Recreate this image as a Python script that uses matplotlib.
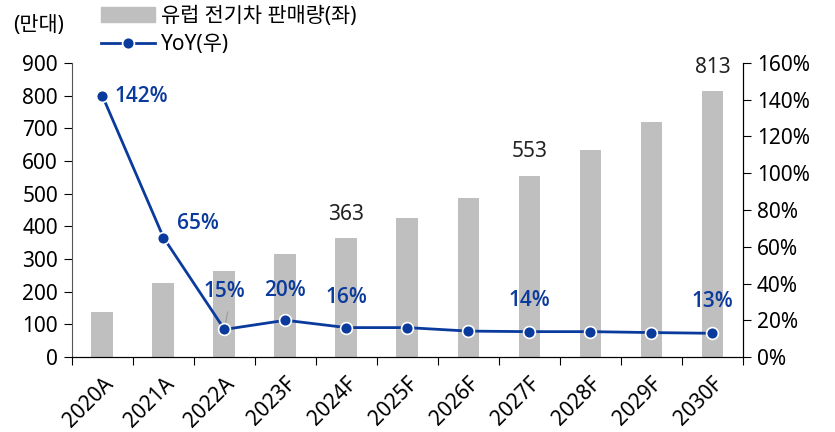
import matplotlib

matplotlib.use("Agg")
import matplotlib.pyplot as plt
from matplotlib.lines import Line2D
from matplotlib.patches import Patch
import numpy as np

plt.rcParams["font.family"] = ["Noto Sans", "Noto Sans CJK KR", "DejaVu Sans"]

years = ["2020A", "2021A", "2022A", "2023F", "2024F", "2025F",
         "2026F", "2027F", "2028F", "2029F", "2030F"]
sales = [137, 228, 263, 315, 363, 425, 487, 553, 634, 719, 813]
yoy = [142, 65, 15, 20, 16, 16, 14.1, 13.8, 13.8, 13.3, 12.9]
yoy_labels = {0: "142%", 1: "65%", 2: "15%", 3: "20%", 4: "16%", 7: "14%", 10: "13%"}
sales_labels = [4, 7, 10]

BAR = "#bfbfbf"
BLUE = "#0a3a9c"
FS = 15

fig = plt.figure(figsize=(8.35, 4.32), dpi=100)
ax = fig.add_axes([0.0862, 0.1736, 0.8036, 0.6806])
ax2 = ax.twinx()

x = np.arange(len(years))
ax.bar(x, sales, width=0.36, color=BAR, zorder=2)
for i in sales_labels:
    ax.annotate(str(sales[i]), (x[i], sales[i]), xytext=(0, 10), textcoords="offset points",
                ha="center", va="bottom", fontsize=FS, color="#222222")

ax2.plot(x, yoy, "-o", color=BLUE, lw=2, ms=8.5, mec="white", mew=1.2, zorder=5)

# label offsets (points)
offs = {0: (9, 0, "left", "center"), 1: (10, 10, "left", "center"),
        2: (0, 20, "center", "bottom"), 3: (0, 14, "center", "bottom"),
        4: (0, 14, "center", "bottom"), 7: (0, 15, "center", "bottom"),
        10: (0, 15, "center", "bottom")}
for i, txt in yoy_labels.items():
    dx, dy, ha, va = offs[i]
    ax2.annotate(txt, (x[i], yoy[i]), xytext=(dx, dy), textcoords="offset points",
                 ha=ha, va=va, fontsize=FS, fontweight="semibold", color=BLUE,
                 family=["Open Sans", "DejaVu Sans"])
# small leader line for 2022A label
ax2.annotate("", (x[2], yoy[2]), xytext=(x[2] + 0.06, yoy[2] + 11),
             arrowprops=dict(arrowstyle="-", color="#a0a0a0", lw=1))

ax.set_xlim(-0.5, len(years) - 0.5)
ax.set_ylim(0, 900)
ax.set_yticks(range(0, 901, 100))
ax2.set_ylim(0, 160)
ax2.set_yticks(range(0, 161, 20))
ax2.set_yticklabels([f"{v}%" for v in range(0, 161, 20)])

ax.set_xticks(np.arange(len(years) + 1) - 0.5, minor=False)
ax.set_xticklabels([])
ax.set_xticks(x, minor=True)
ax.set_xticklabels(years, minor=True, rotation=45, ha="right", rotation_mode="anchor")
ax.tick_params(axis="x", which="minor", length=0, pad=12, labelsize=FS)
ax.tick_params(axis="x", which="major", length=6, direction="out")
ax.tick_params(axis="y", labelsize=FS, length=6, pad=4)
ax2.tick_params(axis="y", labelsize=FS, length=6, pad=4)

for a in (ax, ax2):
    a.spines["top"].set_visible(False)
ax.spines["left"].set_color("#555555")
ax2.spines["left"].set_visible(False)

fig.text(0.016, 0.94, "(만대)", fontsize=FS, ha="left", va="center")

handles = [Patch(color=BAR, label="유럽 전기차 판매량(좌)"),
           Line2D([], [], color=BLUE, lw=2, marker="o", ms=8.5, mec="white", mew=1.2,
                  label="YoY(우)")]
fig.legend(handles=handles, loc="upper left", bbox_to_anchor=(0.098, 1.03), frameon=False,
           fontsize=FS, handlelength=2.6, handletextpad=0.3, labelspacing=0.35)

fig.savefig("out.png", dpi=100)
